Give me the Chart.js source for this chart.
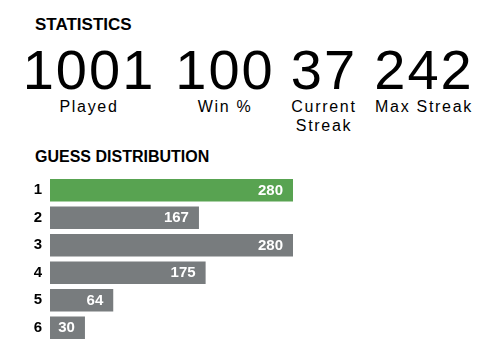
<!DOCTYPE html>
<html>
<head>
<meta charset="utf-8">
<script src="https://cdn.jsdelivr.net/npm/chart.js@4"></script>
<style>
  body { margin: 0; width: 499px; height: 356px; background: #fff; font-family: "Liberation Sans", Arial, sans-serif; color: #000; overflow: hidden; }
  .head { position: absolute; left: 35px; font-weight: bold; line-height: 1; }
  .stat { position: absolute; width: 140px; text-align: center; }
  .num { position: absolute; top: 42px; width: 100%; font-size: 56px; line-height: 56px; letter-spacing: 2px; }
  .lbl { position: absolute; top: 97px; width: 100%; font-size: 16px; line-height: 19px; letter-spacing: 1.7px; }
  #wrap { position: absolute; left: 0; top: 170px; width: 499px; height: 180px; }
</style>
</head>
<body>
<div class="head" style="top:15.5px;font-size:17px">STATISTICS</div>
<div id="stats"></div>
<div class="head" style="top:149px;font-size:16px">GUESS DISTRIBUTION</div>
<div id="wrap"><canvas id="dist"></canvas></div>
<script>
const statValues = ["1001", "100", "37", "242"];
const statLabels = ["Played", "Win %", "Current<br>Streak", "Max Streak"];
const statCenters = [89, 225, 324, 424];

const guesses = ["1", "2", "3", "4", "5", "6"];
const counts = [280, 167, 280, 175, 64, 30];
const lastGuess = 0;

const stats = document.getElementById("stats");
stats.innerHTML = statValues
  .map(
    (v, i) => `
      <div class="stat" style="left:${statCenters[i] - 70}px">
        <div class="num">${v}</div>
        <div class="lbl">${statLabels[i]}</div>
      </div>`
  )
  .join("");

// white count inside the right end of every bar
const barLabels = {
  id: "barLabels",
  afterDatasetsDraw(chart) {
    const ctx = chart.ctx;
    const meta = chart.getDatasetMeta(0);
    ctx.save();
    ctx.fillStyle = "#fff";
    ctx.font = "bold 15px 'Liberation Sans', Arial, sans-serif";
    ctx.textAlign = "right";
    ctx.textBaseline = "middle";
    meta.data.forEach((bar, i) => {
      ctx.fillText(counts[i], bar.x - 10, bar.y + 0.5);
    });
    ctx.restore();
  },
};

const maxCount = Math.max(...counts);

new Chart(document.getElementById("dist").getContext("2d"), {
  type: "bar",
  data: {
    labels: guesses,
    datasets: [
      {
        data: counts,
        base: -12,
        backgroundColor: counts.map((c, i) => (i === lastGuess ? "#58a351" : "#787c7e")),
        barPercentage: 0.82,
        categoryPercentage: 1,
      },
    ],
  },
  options: {
    indexAxis: "y",
    responsive: true,
    maintainAspectRatio: false,
    animation: false,
    layout: { padding: { top: 6.5, bottom: 8.5, right: 206, left: 0 } },
    plugins: { legend: { display: false }, tooltip: { enabled: false } },
    scales: {
      x: { display: false, min: -12, max: maxCount },
      y: {
        grid: { display: false, drawTicks: false },
        border: { display: false },
        ticks: {
          color: "#000",
          padding: 8,
          font: { family: "'Liberation Sans', Arial, sans-serif", size: 15, weight: "bold" },
        },
        afterFit: (scale) => {
          scale.width = 50;
          scale.paddingTop = 0;
          scale.paddingBottom = 0;
        },
      },
    },
  },
  plugins: [barLabels],
});
</script>
</body>
</html>
